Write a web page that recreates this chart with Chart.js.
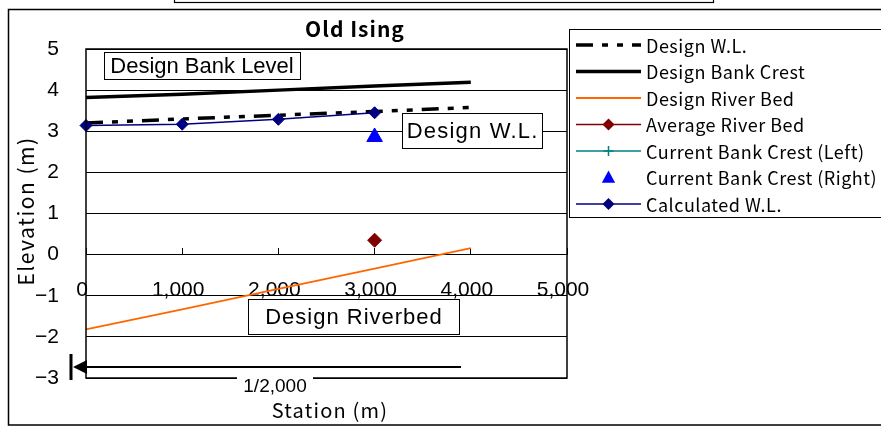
<!DOCTYPE html>
<html>
<head>
<meta charset="utf-8">
<script src="https://cdn.jsdelivr.net/npm/chart.js@4/dist/chart.umd.min.js"></script>
<style>
  html, body { margin: 0; padding: 0; background: #fff; }
  #wrap { width: 881px; height: 427px; }
</style>
</head>
<body>
<div id="wrap"><canvas id="chart" width="881" height="427"></canvas></div>
<script>
// ===================================================== DATA ===================================================== //

const stations      = [0, 1000, 2000, 3000, 4000];
const designWL      = [3.2, 3.3, 3.39, 3.48, 3.58];
const designBank    = [3.82, 3.9, 4.0, 4.1, 4.19];
const designBed     = [-1.82, -1.33, -0.83, -0.34, 0.16];
const avgBedSta     = [3000];
const avgBed        = [0.35];
const bankLeftSta   = [];
const bankLeft      = [];
const bankRightSta  = [3000];
const bankRight     = [2.86];
const calcSta       = [0, 1000, 2000, 3000];
const calcWL        = [3.14, 3.17, 3.29, 3.45];

const xTicks = [0, 1000, 2000, 3000, 4000, 5000];
const yTicks = [-3, -2, -1, 0, 1, 2, 3, 4, 5];

const jp = '"Noto Sans CJK JP", "Noto Sans", sans-serif',
      ar = '"Liberation Sans", Arial, sans-serif';

const pts = (xs, ys) => xs.map((x, i) => ({x, y: ys[i]}));

// =================================================== DATASETS =================================================== //

const datasets = [
  {label: 'Design W.L.', data: pts(stations, designWL), borderColor: '#000', borderWidth: 3.5,
   borderDash: [17, 9, 6, 9, 6, 9], pointRadius: 0, order: 2},
  {label: 'Design Bank Crest', data: pts(stations, designBank), borderColor: '#000', borderWidth: 3.5,
   pointRadius: 0, order: 2},
  {label: 'Design River Bed', data: pts(stations, designBed), borderColor: '#ff6600', borderWidth: 1.8,
   pointRadius: 0, order: 2},
  {label: 'Average River Bed', data: pts(avgBedSta, avgBed), borderColor: '#800000', backgroundColor: '#800000',
   showLine: false, pointStyle: 'rectRot', pointRadius: 7, order: 1},
  {label: 'Current Bank Crest (Left)', data: pts(bankLeftSta, bankLeft), borderColor: '#008080',
   backgroundColor: '#008080', showLine: false, pointStyle: 'cross', pointRadius: 5, order: 1},
  {label: 'Current Bank Crest (Right)', data: pts(bankRightSta, bankRight), borderColor: '#0000ff',
   backgroundColor: '#0000ff', showLine: false, pointStyle: 'triangle', pointRadius: 9, order: 1},
  {label: 'Calculated W.L.', data: pts(calcSta, calcWL), borderColor: '#000080', backgroundColor: '#000080',
   borderWidth: 1.5, pointStyle: 'rectRot', pointRadius: 6, pointBorderWidth: 1, order: 0}
];
datasets.forEach(d => { d.clip = false; d.tension = 0; });

// ================================================ DRAW HELPERS ================================================== //

function marker(ctx, style, x, y, r, color) {
  ctx.save();
  ctx.fillStyle = color; ctx.strokeStyle = color; ctx.lineWidth = 1.5;
  ctx.beginPath();
  if (style === 'rectRot') {
    ctx.moveTo(x, y - r); ctx.lineTo(x + r, y); ctx.lineTo(x, y + r); ctx.lineTo(x - r, y); ctx.closePath(); ctx.fill();
  } else if (style === 'triangle') {
    ctx.moveTo(x, y - r); ctx.lineTo(x + r * 0.95, y + r * 0.75); ctx.lineTo(x - r * 0.95, y + r * 0.75); ctx.closePath(); ctx.fill();
  } else if (style === 'cross') {
    ctx.moveTo(x - r, y); ctx.lineTo(x + r, y); ctx.moveTo(x, y - r); ctx.lineTo(x, y + r); ctx.stroke();
  }
  ctx.restore();
}

function textBox(ctx, x, y, w, h, txt, size, sp) {
  ctx.save();
  ctx.fillStyle = '#fff';
  ctx.fillRect(x, y, w, h);
  ctx.strokeStyle = '#000'; ctx.lineWidth = 1;
  ctx.strokeRect(x + 0.5, y + 0.5, w, h);
  ctx.fillStyle = '#000';
  ctx.font = `${size}px ${ar}`;
  ctx.letterSpacing = sp + 'px';
  ctx.textAlign = 'center'; ctx.textBaseline = 'middle';
  ctx.fillText(txt, x + w / 2 + sp / 2, y + h / 2 + 1);
  ctx.restore();
}

// ================================================== DECORATION ================================================== //

const decor = {
  id: 'decor',
  beforeDraw(chart) {
    const ctx = chart.ctx;
    ctx.save();
    ctx.fillStyle = '#fff';
    ctx.fillRect(0, 0, chart.width, chart.height);
    ctx.restore();
  },
  afterDraw(chart) {
    const ctx = chart.ctx, a = chart.chartArea;
    ctx.save();

    // plot frame
    ctx.strokeStyle = '#000'; ctx.lineWidth = 1.5;
    ctx.strokeRect(a.left, a.top, a.right - a.left, a.bottom - a.top);

    // outer frame and cut-off box above
    ctx.lineWidth = 1.5;
    ctx.strokeRect(8.5, 9.5, 900, 415.5);
    ctx.lineWidth = 1.2;
    ctx.strokeRect(174.5, -10, 539, 12.5);

    // title
    ctx.fillStyle = '#000';
    ctx.font = `bold 21px ${jp}`;
    ctx.letterSpacing = '1px';
    ctx.textAlign = 'center'; ctx.textBaseline = 'middle';
    ctx.fillText('Old Ising', 355, 29);

    // axis titles
    ctx.font = `20px ${jp}`;
    ctx.letterSpacing = '1.2px';
    ctx.fillText('Station (m)', 330, 410);
    ctx.save();
    ctx.translate(26, 211);
    ctx.rotate(-Math.PI / 2);
    ctx.font = `21px ${jp}`;
    ctx.letterSpacing = '1.5px';
    ctx.fillText('Elevation (m)', 0, 0);
    ctx.restore();
    ctx.letterSpacing = '0px';

    // scale arrow
    ctx.fillRect(69.5, 354, 3, 26);
    ctx.beginPath();
    ctx.moveTo(73, 367); ctx.lineTo(87, 360); ctx.lineTo(87, 374); ctx.closePath(); ctx.fill();
    ctx.fillRect(86, 366, 375, 2);
    ctx.fillStyle = '#fff';
    ctx.fillRect(237, 377, 76, 5);
    ctx.fillStyle = '#000';
    ctx.font = `19px ${ar}`;
    ctx.fillText('1/2,000', 275, 387);

    // text boxes
    textBox(ctx, 104, 52, 196, 27, 'Design Bank Level', 22, 0);
    textBox(ctx, 402, 113, 140, 35, 'Design W.L.', 22, 1.2);
    textBox(ctx, 248, 299, 211, 35, 'Design Riverbed', 22, 1);

    // legend
    ctx.fillStyle = '#fff';
    ctx.fillRect(569, 29, 320, 188);
    ctx.strokeStyle = '#000'; ctx.lineWidth = 1;
    ctx.strokeRect(569.5, 29.5, 320, 188);
    chart.data.datasets.forEach((d, i) => {
      const y = 45 + i * 26.5;
      if (d.showLine !== false) {
        ctx.save();
        ctx.strokeStyle = d.borderColor; ctx.lineWidth = d.borderWidth;
        ctx.setLineDash(d.borderDash || []);
        ctx.beginPath(); ctx.moveTo(576, y); ctx.lineTo(641, y); ctx.stroke();
        ctx.restore();
      } else if (d.pointStyle !== 'triangle') {
        ctx.save();
        ctx.strokeStyle = d.borderColor; ctx.lineWidth = 1.5;
        ctx.beginPath(); ctx.moveTo(576, y); ctx.lineTo(641, y); ctx.stroke();
        ctx.restore();
      }
      if (d.pointRadius) marker(ctx, d.pointStyle, 608.5, y, d.pointStyle === 'triangle' ? 7 : (d.pointStyle === 'cross' ? 5 : 6), d.backgroundColor);
      ctx.save();
      ctx.fillStyle = '#000';
      ctx.font = `18px ${jp}`;
      ctx.letterSpacing = '0.5px';
      ctx.textAlign = 'left'; ctx.textBaseline = 'middle';
      ctx.fillText(d.label, 646, y + 1);
      ctx.restore();
    });

    ctx.restore();
  }
};

// ===================================================== CHART ==================================================== //

new Chart(document.getElementById('chart'), {
  type: 'line',
  data: {datasets},
  options: {
    responsive: false,
    animation: false,
    layout: {padding: {left: 0, top: 49, right: 314, bottom: 49}},
    plugins: {legend: {display: false}, title: {display: false}, tooltip: {enabled: false}},
    scales: {
      x: {
        type: 'linear', position: {y: 0}, min: 0, max: 5000,
        afterBuildTicks: s => { s.ticks = xTicks.map(v => ({value: v})); },
        ticks: {padding: 30, labelOffset: -4, color: '#000', font: {family: ar, size: 21}, maxRotation: 0,
                callback: v => v.toLocaleString('en-US')},
        grid: {drawOnChartArea: false, tickLength: -7, color: '#000'},
        border: {display: false}
      },
      y: {
        min: -3, max: 5,
        afterBuildTicks: s => { s.ticks = yTicks.map(v => ({value: v})); },
        afterFit: s => { s.width = 86; },
        ticks: {padding: 27, color: '#000', font: {family: ar, size: 21},
                callback: v => String(v).replace('-', '\u2212')},
        grid: {color: '#000', drawTicks: false},
        border: {display: false}
      }
    }
  },
  plugins: [decor]
});
</script>
</body>
</html>
